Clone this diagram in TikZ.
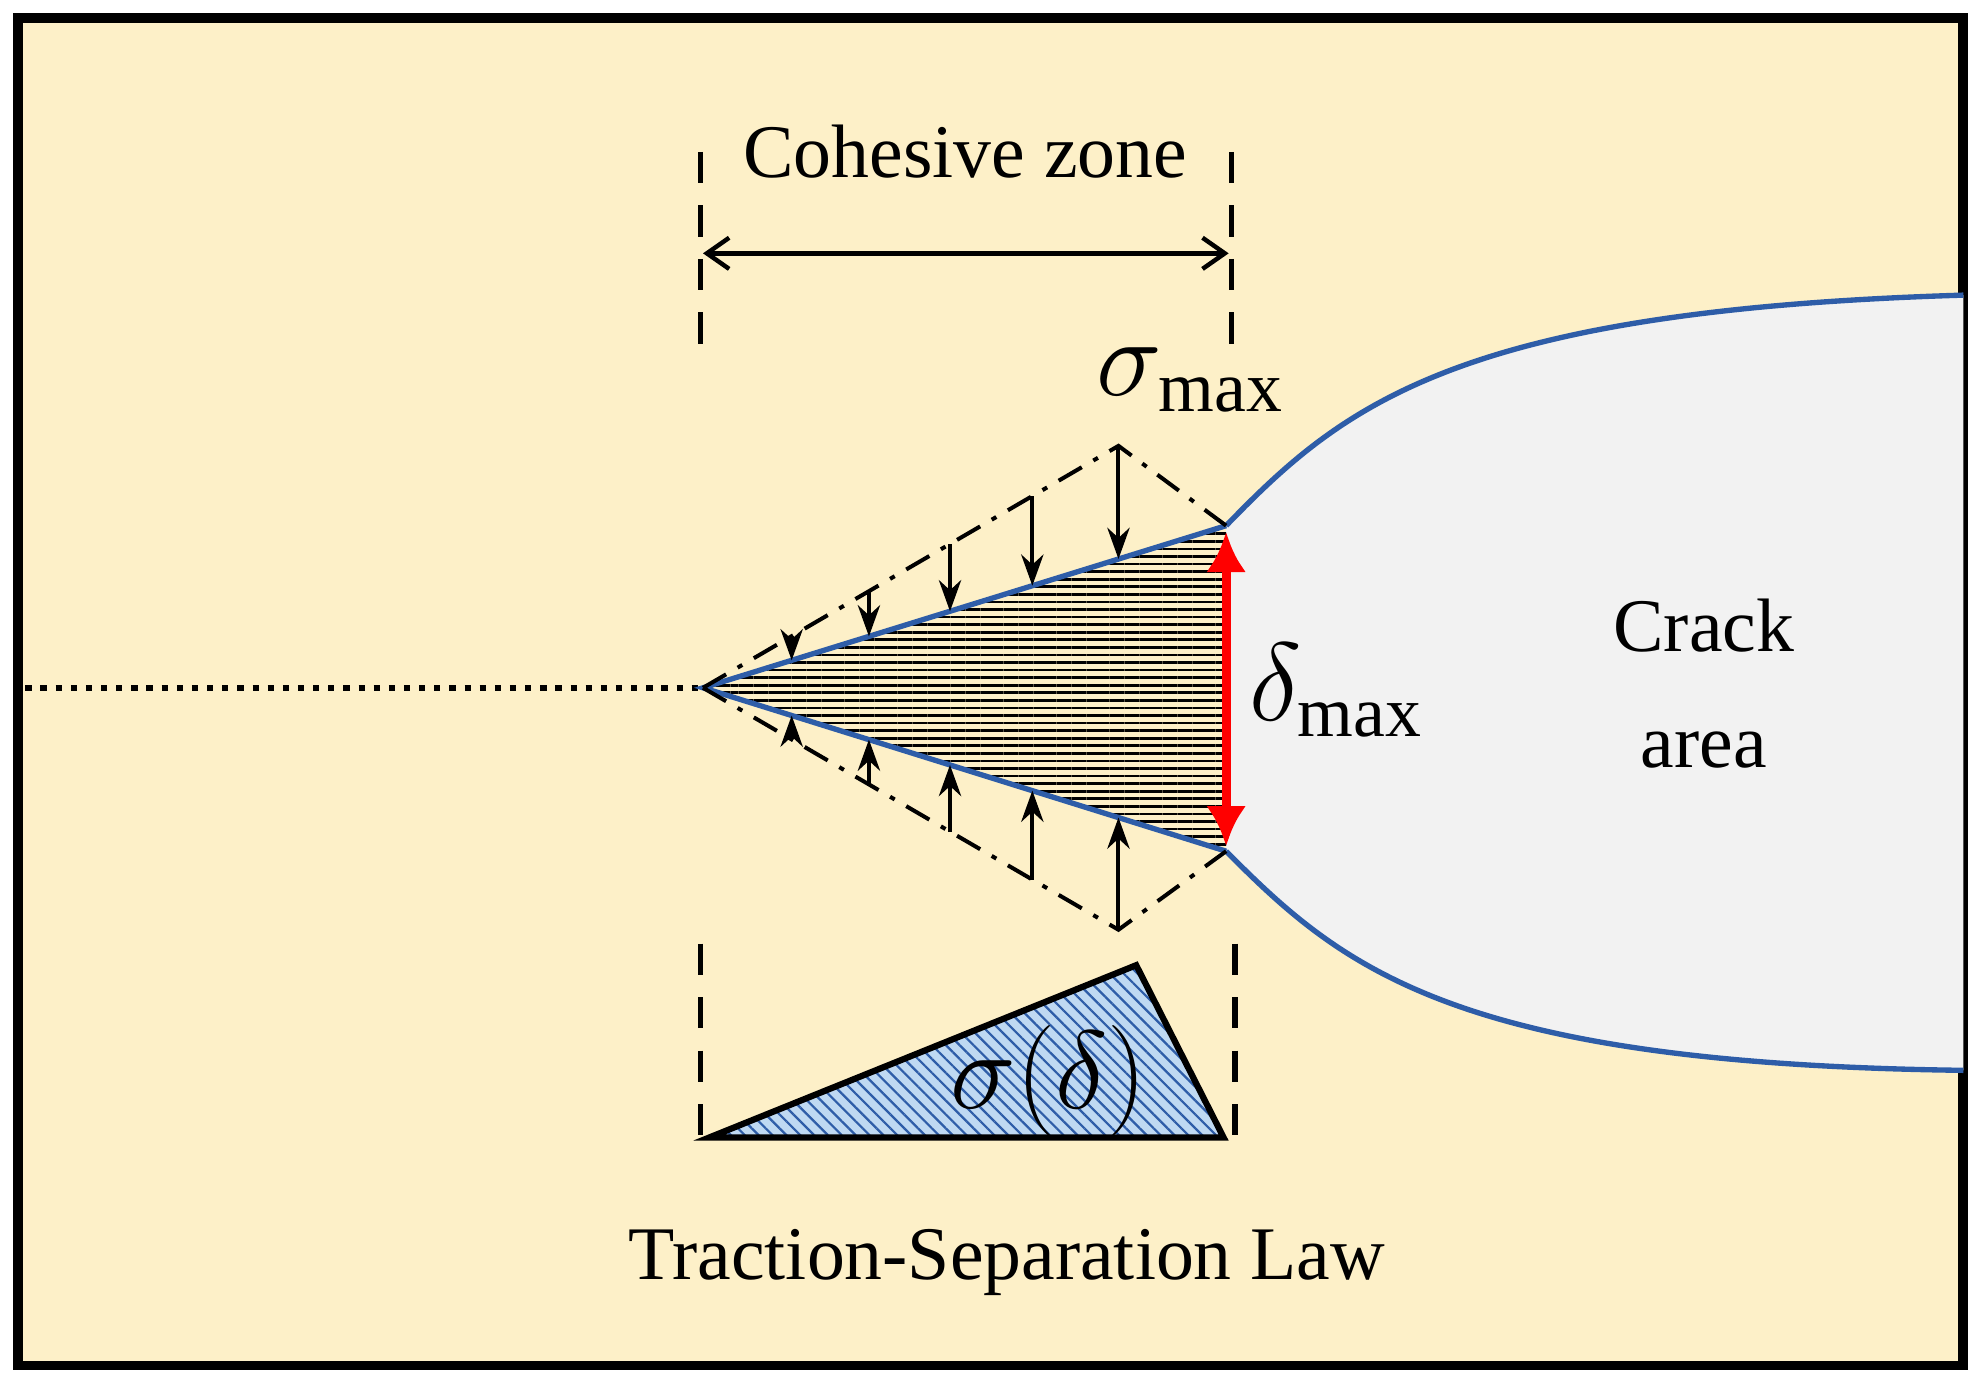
\documentclass[tikz,border=0pt]{standalone}
\usepackage{fontspec}
\setmainfont{Liberation Serif}
\usetikzlibrary{arrows.meta,patterns.meta}
\definecolor{bg}{HTML}{FDF0C8}
\definecolor{crk}{HTML}{F2F2F2}
\definecolor{cblue}{HTML}{2E5DA8}
\definecolor{lblue}{HTML}{BFD9F2}
\begin{document}
\begin{tikzpicture}[x=0.01cm,y=-0.01cm,
  lbl/.style={font=\fontsize{17}{20}\selectfont,inner sep=0pt},
  mth/.style={font=\fontsize{23}{26}\selectfont,inner sep=0pt},
  tr/.style={-{Stealth[length=7pt,width=5pt]},line width=0.9pt},
  dd/.style={dash pattern=on 6pt off 3pt on 1.2pt off 3pt,line width=0.9pt},
  vd/.style={dash pattern=on 7pt off 5pt,line width=1.2pt}]
\useasboundingbox (0,0) rectangle (1560,1085);
\draw[line width=2.2pt,fill=bg] (14,14) rectangle (1550,1078);
% crack area
\fill[crk] (968,415) .. controls (1060,320) and (1150,245) .. (1550,233) -- (1550,845) .. controls (1150,840) and (1060,765) .. (968,672) -- cycle;
\draw[cblue,line width=1.2pt] (968,415) .. controls (1060,320) and (1150,245) .. (1550,233);
\draw[cblue,line width=1.2pt] (968,672) .. controls (1060,765) and (1150,840) .. (1550,845);
% dotted
\draw[dotted,line width=1.4pt] (20,543) -- (555,543);
% hatched triangle
\fill[pattern={Lines[angle=0,distance=1.7pt,line width=0.6pt]}] (555,543) -- (968,415) -- (968,672) -- cycle;
\draw[cblue,line width=1.2pt] (968,415) -- (555,543) -- (968,672);
% envelope
\draw[dd] (555,543) -- (883,352) -- (968,415);
\draw[dd] (555,543) -- (883,734) -- (968,672);
% tractions
\foreach \x/\a/\b in {625/502.2/521.3,686/466.7/502.4,750/429.5/482.6,815/391.6/462.4,883/352/441.3}
  \draw[tr] (\x,\a) -- (\x,\b);
\foreach \x/\a/\b in {625/583.8/564.9,686/619.3/583.9,750/656.5/603.9,815/694.4/624.2,883/734/645.4}
  \draw[tr] (\x,\a) -- (\x,\b);
% red
\draw[red,line width=2pt,{Latex[length=9pt,width=9pt]}-{Latex[length=9pt,width=9pt]}] (968,420) -- (968,668);
% cohesive zone
\draw[vd] (553,120) -- (553,282);
\draw[vd] (972,120) -- (972,282);
\draw[line width=1pt,{Straight Barb[length=5pt,width=7pt]}-{Straight Barb[length=5pt,width=7pt]}] (555,200) -- (970,200);
\node[lbl] (cz) at (762,120) {Cohesive zone};
% labels
\node[mth] (sm) at (940,300) {$\sigma_{\mathrm{max}}$};
\node[mth] (dm) at (1055,545) {$\delta_{\mathrm{max}}$};
\node[lbl,align=center,font=\fontsize{17}{26}\selectfont] (ca) at (1345,540) {Crack\\area};
% TSL
\draw[vd] (553,745) -- (553,905);
\draw[vd] (975,745) -- (975,912);
\fill[lblue] (560,898) -- (897,762) -- (966,898) -- cycle;
\fill[pattern={Lines[angle=-45,distance=2.2pt,line width=0.5pt]},pattern color=cblue] (560,898) -- (897,762) -- (966,898) -- cycle;
\draw[line width=1.4pt,line join=miter] (560,898) -- (897,762) -- (966,898) -- cycle;
\node[mth] (sd) at (828,853) {$\sigma(\delta)$};
\node[lbl] (tsl) at (795,997) {Traction-Separation Law};
\end{tikzpicture}
\end{document}
